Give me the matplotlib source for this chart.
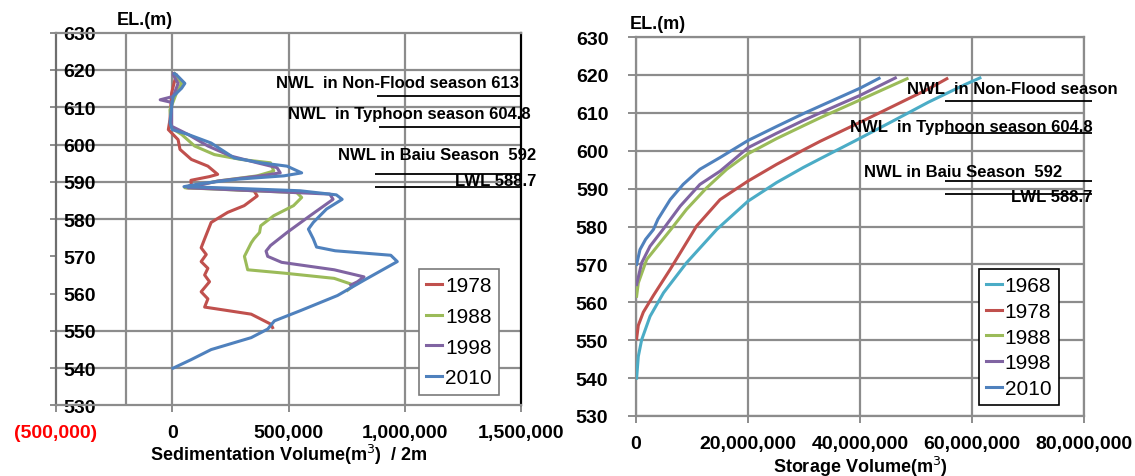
import matplotlib
matplotlib.use("Agg")
import matplotlib.pyplot as plt
from matplotlib.ticker import FuncFormatter

plt.rcParams['font.family'] = ['Liberation Sans', 'DejaVu Sans']

# colours of the yearly surveys
C1968 = '#4bacc6'
C1978 = '#c0504d'
C1988 = '#9bbb59'
C1998 = '#8064a2'
C2010 = '#4f81bd'

# ---- sedimentation volume per 2 m slice (m3) vs elevation (m)
sed_el_1978 = [619, 618.7, 617.3, 613.8, 606.7, 604, 601.3, 598.7, 596, 594.2, 592, 591.4,
               590.4, 589.3, 588.4, 588.2, 587.6, 586.2, 583.6, 581.8, 579.1, 574.7, 572.3,
               570.5, 568.6, 566.8, 565, 563.2, 560.5, 558.6, 556.4, 554.5, 551.8, 550.9]
sed_v_1978 = [10e3, 18e3, 11e3, -3e3, -10e3, -17e3, 25e3, 33e3, 82e3, 153e3, 195e3, 160e3,
              80e3, 82e3, 61e3, 200e3, 351e3, 365e3, 309e3, 238e3, 167e3, 139e3, 124e3,
              146e3, 124e3, 153e3, 139e3, 160e3, 124e3, 153e3, 139e3, 339e3, 424e3, 431e3]

sed_el_1988 = [619, 618.7, 616.4, 613.8, 609.3, 604.4, 602.7, 599.6, 597.3, 596, 595.1, 592.9,
               591.6, 590.2, 588.4, 587.1, 585.8, 583.6, 580.9, 578.2, 576.4, 574.7, 573.6,
               570, 566.4, 565.5, 564.1, 562.3, 560.9]
sed_v_1988 = [10e3, 14e3, 40e3, 18e3, -10e3, -3e3, 40e3, 96e3, 181e3, 295e3, 422e3, 436e3,
              365e3, 195e3, 54e3, 535e3, 556e3, 521e3, 436e3, 380e3, 375e3, 351e3, 339e3,
              310e3, 324e3, 481e3, 696e3, 781e3, 753e3]

sed_el_1998 = [619, 618.7, 616.4, 612.9, 612, 611.3, 604.9, 602.7, 599.6, 596.9, 595.1, 593.8,
               592.4, 591.6, 590.2, 588.4, 586.7, 585.3, 580.9, 576.4, 572.9, 571.4, 570,
               568.4, 566.4, 564.5, 563.2, 562.3]
sed_v_1998 = [5e3, 4e3, 25e3, 4e3, -52e3, -3e3, -3e3, 68e3, 153e3, 252e3, 365e3, 450e3,
              464e3, 380e3, 195e3, 68e3, 677e3, 691e3, 592e3, 493e3, 422e3, 403e3, 410e3,
              470e3, 696e3, 824e3, 796e3, 767e3]

sed_el_2010 = [619, 618.7, 616.4, 615.1, 612.9, 610.2, 605.8, 604, 602.7, 600.4, 596.4, 595.1,
               594.2, 592.4, 591.6, 590.7, 589.5, 588.7, 588.3, 587.6, 586.5, 585.3, 582.7,
               579.1, 577.3, 574.7, 572.5, 571.5, 571, 570.3, 568.6, 563.6, 559.5, 555.5,
               552.7, 550.5, 548.2, 545, 542.3, 540]
sed_v_2010 = [10e3, 18e3, 54e3, 40e3, 4e3, -3e3, -10e3, 0, 68e3, 167e3, 266e3, 380e3,
              493e3, 556e3, 480e3, 280e3, 120e3, 50e3, 250e3, 549e3, 705e3, 730e3, 663e3,
              606e3, 585e3, 606e3, 620e3, 700e3, 800e3, 939e3, 967e3, 824e3, 710e3, 553e3,
              439e3, 410e3, 339e3, 167e3, 81e3, 3e3]

# ---- storage volume (m3) vs elevation (m)
sto_el_1968 = [540, 545.7, 550.1, 556.3, 562.5, 570.4, 579.2, 586.7, 591.6, 595.6, 597.9,
               602.6, 607.7, 612.8, 617.5, 619.2]
sto_v_1968 = [0.1e6, 0.4e6, 1.0e6, 2.5e6, 4.9e6, 9.0e6, 14.4e6, 20e6, 25.1e6, 29.9e6, 32.9e6,
              39.1e6, 45.7e6, 52.2e6, 58.8e6, 61.4e6]
sto_el_1978 = [550.4, 553.9, 557.4, 561.8, 568.7, 580.1, 587.1, 592, 596.4, 600.2, 602.5,
               607.5, 611.6, 616.3, 619]
sto_v_1978 = [0.1e6, 0.4e6, 1.3e6, 3.1e6, 6.1e6, 10.8e6, 15e6, 20e6, 25.1e6, 29.9e6, 32.9e6,
              40e6, 45.7e6, 52.2e6, 55.5e6]
sto_el_1988 = [561.6, 565.1, 571.3, 579.2, 584.5, 590.2, 595.1, 599.2, 603.2, 606.6, 608.7,
               613.4, 619]
sto_v_1988 = [0.1e6, 0.4e6, 1.9e6, 6.2e6, 9.0e6, 12.6e6, 16.2e6, 20e6, 25.1e6, 29.9e6, 32.9e6,
              40e6, 48.4e6]
sto_el_1998 = [564.7, 570.4, 574.8, 579.2, 585.4, 591.1, 594.6, 600.8, 604.6, 608, 610,
               614.6, 619.2]
sto_v_1998 = [0.1e6, 1.0e6, 2.5e6, 4.8e6, 7.9e6, 11.4e6, 15e6, 20e6, 25.1e6, 29.9e6, 32.9e6,
              40e6, 46.3e6]
sto_el_2010 = [570, 573.9, 576.6, 579.2, 581.9, 587.1, 591.1, 595.1, 598.2, 602.7, 606.4,
               609.8, 611.8, 616.5, 619.1]
sto_v_2010 = [0.1e6, 0.7e6, 1.7e6, 3.1e6, 3.9e6, 6.1e6, 8.4e6, 11.4e6, 15e6, 20e6, 25.1e6,
              29.9e6, 32.9e6, 40e6, 43.4e6]

# water levels (m)
NWL_NONFLOOD = 613
NWL_TYPHOON = 604.8
NWL_BAIU = 592
LWL = 588.7

sed_xticks = [-500000, 0, 500000, 1000000, 1500000]
sto_xticks = [0, 20e6, 40e6, 60e6, 80e6]
el_ticks = list(range(530, 631, 10))

GRID = '#8c8c8c'


def money(v, pos=None):
    if v < 0:
        return '({:,.0f})'.format(-v)
    return '{:,.0f}'.format(v)


fig = plt.figure(figsize=(11.35, 4.77), dpi=100)

# ------------------------------------------------------------ left panel
ax1 = fig.add_axes([0.0493, 0.1478, 0.4100, 0.7816])
ax1.set_xlim(-500000, 1500000)
ax1.set_ylim(530, 630)

for x in [-200000, 0, 500000, 1000000]:
    ax1.axvline(x, color=GRID, lw=1.6, zorder=1)
for y in [540, 550, 580, 590, 600, 610, 620]:
    ax1.axhline(y, color=GRID, lw=1.6, zorder=1)

ax1.plot(sed_v_1978, sed_el_1978, color=C1978, lw=2.2, label='1978', zorder=3)
ax1.plot(sed_v_1988, sed_el_1988, color=C1988, lw=2.2, label='1988', zorder=3)
ax1.plot(sed_v_1998, sed_el_1998, color=C1998, lw=2.2, label='1998', zorder=3)
ax1.plot(sed_v_2010, sed_el_2010, color=C2010, lw=2.2, label='2010', zorder=3)

for s in ['left', 'top', 'bottom']:
    ax1.spines[s].set_color(GRID)
    ax1.spines[s].set_linewidth(1.6)
ax1.spines['left'].set_color('#6e6e6e')
ax1.spines['right'].set_color('black')
ax1.spines['right'].set_linewidth(1.6)

ax1.set_xticks(sed_xticks)
ax1.xaxis.set_major_formatter(FuncFormatter(money))
ax1.set_yticks(el_ticks)
ax1.tick_params(axis='x', length=5, width=1.4, color=GRID, pad=8, labelsize=14)
ax1.tick_params(axis='y', length=4, width=1.4, color=GRID, pad=-9, labelsize=14)
for lab in ax1.get_yticklabels():
    lab.set_ha('left')
    lab.set_fontweight('bold')
for lab in ax1.get_xticklabels():
    lab.set_fontweight('bold')
ax1.get_xticklabels()[0].set_color('red')

ax1.set_xlabel('Sedimentation Volume(m$^3$)  / 2m', fontsize=13, fontweight='bold',
               labelpad=1)
ax1.text(0.13, 1.035, 'EL.(m)', transform=ax1.transAxes, fontsize=13,
         fontweight='bold', ha='left', va='center')

leg1 = ax1.legend(loc='upper left', bbox_to_anchor=(0.78, 0.366), fontsize=15,
                  handlelength=0.75, handletextpad=0.15, labelspacing=0.56,
                  borderpad=0.35, borderaxespad=0, frameon=True, fancybox=False,
                  framealpha=1)
leg1.get_frame().set_edgecolor('#7a7a7a')
leg1.get_frame().set_linewidth(1.2)

# water level markers
ax1.hlines([NWL_NONFLOOD, NWL_TYPHOON, NWL_BAIU, LWL],
           [880000, 890000, 870000, 870000], 1500000, color='black', lw=1.3,
           zorder=4, clip_on=False)
ax1.text(1490000, NWL_NONFLOOD + 3.6, 'NWL  in Non-Flood season 613', ha='right',
         va='center', fontsize=12, fontweight='bold', zorder=5)
ax1.text(1540000, NWL_TYPHOON + 3.6, 'NWL  in Typhoon season 604.8', ha='right',
         va='center', fontsize=12, fontweight='bold', zorder=5)
ax1.text(1565000, NWL_BAIU + 5.2, 'NWL in Baiu Season  592', ha='right',
         va='center', fontsize=12, fontweight='bold', zorder=5)
ax1.text(1565000, LWL + 1.7, 'LWL 588.7', ha='right', va='center', fontsize=12,
         fontweight='bold', zorder=5)

# ------------------------------------------------------------ right panel
ax2 = fig.add_axes([0.5604, 0.1258, 0.3947, 0.7945])
ax2.set_xlim(0, 80e6)
ax2.set_ylim(530, 630)
ax2.set_xticks(sto_xticks)
ax2.set_yticks(el_ticks)
ax2.grid(True, color=GRID, lw=1.6, zorder=1)
ax2.set_axisbelow(True)

ax2.plot(sto_v_1968, sto_el_1968, color=C1968, lw=2.2, label='1968', zorder=3)
ax2.plot(sto_v_1978, sto_el_1978, color=C1978, lw=2.2, label='1978', zorder=3)
ax2.plot(sto_v_1988, sto_el_1988, color=C1988, lw=2.2, label='1988', zorder=3)
ax2.plot(sto_v_1998, sto_el_1998, color=C1998, lw=2.2, label='1998', zorder=3)
ax2.plot(sto_v_2010, sto_el_2010, color=C2010, lw=2.2, label='2010', zorder=3)

for s in ax2.spines.values():
    s.set_color(GRID)
    s.set_linewidth(1.6)
ax2.xaxis.set_major_formatter(FuncFormatter(money))
ax2.tick_params(axis='x', length=5, width=1.4, color=GRID, pad=9, labelsize=14)
ax2.tick_params(axis='y', length=6, width=1.4, color=GRID, pad=14, labelsize=14)
for lab in ax2.get_xticklabels() + ax2.get_yticklabels():
    lab.set_fontweight('bold')

ax2.set_xlabel('Storage Volume(m$^3$)', fontsize=13, fontweight='bold', labelpad=1)
ax2.text(-0.015, 1.035, 'EL.(m)', transform=ax2.transAxes, fontsize=13,
         fontweight='bold', ha='left', va='center')

leg2 = ax2.legend(loc='upper left', bbox_to_anchor=(0.765, 0.388), fontsize=15,
                  handlelength=0.75, handletextpad=0.15, labelspacing=0.32,
                  borderpad=0.35, borderaxespad=0, frameon=True, fancybox=False,
                  framealpha=1)
leg2.get_frame().set_edgecolor('black')
leg2.get_frame().set_linewidth(1.2)

ax2.hlines([NWL_NONFLOOD, NWL_TYPHOON, NWL_BAIU, LWL], 55.2e6, 81.4e6,
           color='black', lw=1.3, zorder=4, clip_on=False)
ax2.text(86e6, NWL_NONFLOOD + 3.3, 'NWL  in Non-Flood season', ha='right',
         va='center', fontsize=12, fontweight='bold', zorder=5)
ax2.text(81.5e6, NWL_TYPHOON + 1.5, 'NWL  in Typhoon season 604.8', ha='right',
         va='center', fontsize=12, fontweight='bold', zorder=5)
ax2.text(76e6, NWL_BAIU + 2.4, 'NWL in Baiu Season  592', ha='right',
         va='center', fontsize=12, fontweight='bold', zorder=5)
ax2.text(81.5e6, LWL - 0.7, 'LWL 588.7', ha='right', va='center', fontsize=12,
         fontweight='bold', zorder=5)

fig.savefig('out.png', dpi=100)
